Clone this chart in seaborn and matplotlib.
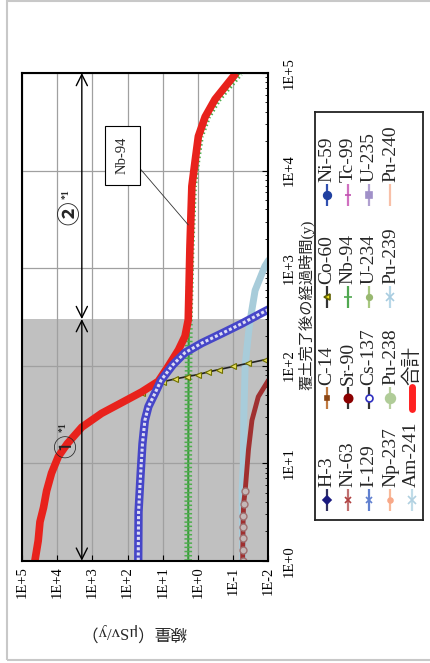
"""Dose after cover completion, drawn rotated 90 deg (time runs upwards, dose to the right)."""
import matplotlib.pyplot as plt
import matplotlib.patches as mpatches
from matplotlib.ticker import NullFormatter
import seaborn as sns

# ======================================================================================================================
# Data: time after cover completion (y) and dose (uSv/y)
# ======================================================================================================================
total_t = [1, 1.6, 2.5, 3.5, 5.2, 7.9, 11.7, 15.8, 23.4, 32.4, 41.7, 53.7, 69, 98, 145, 200, 295,
           1660, 6900, 12900, 22400, 35500, 53700, 72400, 100000]
total_dose = [43000, 34700, 30900, 24500, 20000, 14500, 9300, 5200, 2000, 550, 148, 40, 13.5, 7.1, 3.6, 2.35, 1.9,
              1.7, 1.5, 1.2, 0.98, 0.63, 0.33, 0.17, 0.083]

nb94_t = [1, 3, 10, 30, 100, 300, 1660, 6900, 12900, 22400, 35500, 53700, 72400, 100000]
nb94_dose = [1.9, 1.9, 1.9, 1.88, 1.86, 1.82, 1.62, 1.38, 1.1, 0.88, 0.55, 0.28, 0.14, 0.066]

co60_t = [1, 2.5, 5.2, 11.7, 23.4, 41.7, 52.5, 60, 68.5, 73, 77, 81, 86, 91, 98, 106, 115]
co60_dose = [42000, 30000, 19500, 9000, 1900, 140, 40, 18.6, 9.8, 4.5, 2.1, 1.0, 0.52, 0.26, 0.1, 0.037, 0.0126]

cs137_t = [1, 3.16, 7.9, 15.8, 27.5, 38, 52.5, 71, 102, 135, 170, 214, 269, 347, 380]
cs137_dose = [50, 49, 42.7, 38, 32.4, 25.7, 16.6, 11.2, 5.2, 2.4, 0.79, 0.21, 0.058, 0.0155, 0.0095]

sr90_t = [1, 1.3, 1.7, 2.2, 2.9, 3.8, 5.2, 13.8, 27.5, 48, 71]
sr90_dose = [0.054, 0.054, 0.053, 0.053, 0.052, 0.051, 0.046, 0.037, 0.0295, 0.0195, 0.01]

am241_t = [1, 5.2, 10, 32, 100, 214, 295, 590, 1050, 1200]
am241_dose = [0.054, 0.056, 0.052, 0.05, 0.046, 0.037, 0.033, 0.024, 0.0126, 0.01]

dose_ticks = [1e5, 1e4, 1e3, 1e2, 1e1, 1e0, 1e-1, 1e-2]
dose_tick_labels = ['1E+5', '1E+4', '1E+3', '1E+2', '1E+1', '1E+0', '1E-1', '1E-2']
time_ticks = [1e0, 1e1, 1e2, 1e3, 1e4, 1e5]
time_tick_labels = ['1E+0', '1E+1', '1E+2', '1E+3', '1E+4', '1E+5']

legend_names = ['H-3', 'C-14', 'Co-60', 'Ni-59', 'Ni-63', 'Sr-90', 'Nb-94', 'Tc-99', 'I-129', 'Cs-137',
                'U-234', 'U-235', 'Np-237', 'Pu-238', 'Pu-239', 'Pu-240', 'Am-241', '合計']

management_period = [1, 300, 100000]   # (1) and (2) periods
arrow_dose = 2000

# ======================================================================================================================
# Styles
# ======================================================================================================================
sns.set_style('white')
plt.rcParams['font.family'] = ['Liberation Serif', 'Noto Sans CJK JP', 'DejaVu Sans']
plt.rcParams['axes.edgecolor'] = 'black'

legend_styles = {
    'H-3': dict(color='#303060', marker='D', mfc='#1a1a80', mec='#1a1a80', ms=4),
    'C-14': dict(color='#c07a40', marker='s', mfc='#8b4513', mec='#8b4513', ms=3.5),
    'Co-60': dict(color='#333333', marker='<', mfc='#f0e020', mec='#606000', ms=5),
    'Ni-59': dict(color='#3050b0', marker='o', mfc='#2040a0', mec='#2040a0', ms=5.5),
    'Ni-63': dict(color='#c07070', marker='x', mfc='#b04040', mec='#b04040', ms=5),
    'Sr-90': dict(color='#333333', marker='o', mfc='#8b0000', mec='#8b0000', ms=6),
    'Nb-94': dict(color='#50a850', marker='_', mfc='#50a850', mec='#50a850', ms=6),
    'Tc-99': dict(color='#d070c0', marker='_', mfc='#c050b0', mec='#c050b0', ms=5),
    'I-129': dict(color='#6080d0', marker='x', mfc='#6080d0', mec='#6080d0', ms=5),
    'Cs-137': dict(color='#333333', marker='o', mfc='white', mec='#3030c0', ms=5),
    'U-234': dict(color='#a8c880', marker='o', mfc='#98b870', mec='#98b870', ms=4),
    'U-235': dict(color='#b0a0d0', marker='s', mfc='#a090c8', mec='#a090c8', ms=5),
    'Np-237': dict(color='#f8b898', marker='o', mfc='#f8a888', mec='#f8a888', ms=3.5),
    'Pu-238': dict(color='#b8d0a0', marker='o', mfc='#b0cc98', mec='#b0cc98', ms=7),
    'Pu-239': dict(color='#b8d8e8', marker='x', mfc='#a8cce0', mec='#a8cce0', ms=6),
    'Pu-240': dict(color='#f8c0a8', marker='', ms=0),
    'Am-241': dict(color='#c0dce8', marker='x', mfc='#b0d0e0', mec='#b0d0e0', ms=6),
    '合計': dict(color='#ff2020', marker='', ms=0, lw=5, solid_capstyle='round'),
}

W, H = 430, 663
fig = plt.figure(figsize=(W / 100, H / 100), dpi=100)
fig.add_artist(mpatches.Rectangle((7 / W, 3 / H), 1, 1 - 4 / H, transform=fig.transFigure,
                                  fill=False, ec='#c8c8c8', lw=1.5))
ax = fig.add_axes([22 / W, (H - 560.7) / H, 246.5 / W, 487.7 / H])
ax.set_xscale('log')
ax.set_yscale('log')

# period (1) shaded
ax.axhspan(management_period[0], management_period[1], color='#c0c0c0', zorder=0.1, lw=0)
ax.set_axisbelow(True)
ax.grid(True, which='major', color='#a0a0a0', lw=0.9)

# ======================================================================================================================
# Curves
# ======================================================================================================================
sns.lineplot(x=am241_dose, y=am241_t, sort=False, estimator=None, ax=ax, color='#a8ccda', lw=5, zorder=2)
sns.lineplot(x=sr90_dose, y=sr90_t, sort=False, estimator=None, ax=ax, color='#a03030', lw=3.5, zorder=2.1,
             marker='o', ms=5, mfc='#c4b8b8', mec='#a07070', mew=1, markevery=slice(0, 7))
sns.lineplot(x=nb94_dose, y=nb94_t, sort=False, estimator=None, ax=ax, color='#3a9a3a', lw=1.5, zorder=2.8)
sns.lineplot(x=nb94_dose, y=nb94_t, sort=False, estimator=None, ax=ax, color='#4fae4f', lw=5.5, zorder=2.8,
             dashes=False, linestyle=(0, (0.2, 0.35)))
sns.lineplot(x=co60_dose, y=co60_t, sort=False, estimator=None, ax=ax, color='#222222', lw=1.2, zorder=3.2,
             marker='<', ms=5, mfc='#e8e060', mec='#707000', mew=0.8, markevery=slice(6, None))
sns.lineplot(x=total_dose, y=total_t, sort=False, estimator=None, ax=ax, color='#e8221c', lw=5.5, zorder=3.5,
             solid_capstyle='butt')
sns.lineplot(x=cs137_dose, y=cs137_t, sort=False, estimator=None, ax=ax, color='#4646c8', lw=6, zorder=4)
sns.lineplot(x=cs137_dose, y=cs137_t, sort=False, estimator=None, ax=ax, color='#dcdcf4', lw=2.2, zorder=4,
             dashes=False, linestyle=(0, (1.0, 0.7)))

# ======================================================================================================================
# Annotations
# ======================================================================================================================
arrow_style = dict(arrowstyle='<->,head_length=0.8,head_width=0.4', lw=1, color='black', shrinkA=0, shrinkB=0)
ax.annotate('', xy=(arrow_dose, management_period[0]), xytext=(arrow_dose, management_period[1]),
            arrowprops=arrow_style, zorder=5)
ax.annotate('', xy=(arrow_dose, management_period[1]), xytext=(arrow_dose, management_period[2]),
            arrowprops=arrow_style, zorder=5)
ax.text(4800, 14.8, '①', rotation=90, ha='center', va='center', fontsize=17, zorder=6)
ax.annotate('*1', xy=(4800, 14.8), xytext=(-4, 14), textcoords='offset points', rotation=90,
            ha='center', va='center', fontsize=7, fontweight='bold', zorder=6)
ax.text(3900, 3650, '②', rotation=90, ha='center', va='center', fontsize=17, fontweight='bold', zorder=6)
ax.annotate('*1', xy=(3900, 3650), xytext=(-4, 14), textcoords='offset points', rotation=90,
            ha='center', va='center', fontsize=7, fontweight='bold', zorder=6)
ax.annotate('Nb-94', xy=(1.9, 2770), xytext=(140, 14200), textcoords='data', rotation=90,
            ha='center', va='center', fontsize=10.5, zorder=6,
            bbox=dict(boxstyle='square,pad=0.75', fc='white', ec='black', lw=0.8),
            arrowprops=dict(arrowstyle='-', color='#333333', lw=0.6, relpos=(1, 0.5), shrinkA=0, shrinkB=0))

# ======================================================================================================================
# Axes
# ======================================================================================================================
ax.set_xlim(1e5, 1e-2)
ax.set_ylim(1, 1e5)
ax.set_xticks(dose_ticks)
ax.set_xticklabels(dose_tick_labels, rotation=90, fontsize=10.5)
ax.yaxis.tick_right()
ax.set_yticks(time_ticks)
ax.set_yticklabels(time_tick_labels, rotation=90, va='center', fontsize=10.5)
ax.xaxis.set_minor_formatter(NullFormatter())
ax.yaxis.set_minor_formatter(NullFormatter())
ax.tick_params(axis='both', which='both', direction='in', colors='black')
ax.tick_params(axis='both', which='major', length=4, width=0.8)
ax.tick_params(axis='both', which='minor', length=2.5, width=0.6)
ax.tick_params(axis='x', bottom=True, top=False, pad=4)
ax.tick_params(axis='y', right=True, left=False, pad=10)
ax.set_xlabel('')
ax.set_ylabel('')
for s in ax.spines.values():
    s.set_linewidth(1.5)
    s.set_zorder(7)

fig.text(306 / W, 1 - 305 / H, '覆土完了後の経過時間(y)', rotation=90, ha='center', va='center', fontsize=11)
fig.text(134 / W, 1 - 632 / H, '線量（μSv/y）', rotation=180, ha='center', va='center', fontsize=12)

# ======================================================================================================================
# Legend (drawn rotated like the rest of the chart)
# ======================================================================================================================
lax = fig.add_axes([315 / W, (H - 520) / H, 108 / W, 408 / H])
lax.set_xlim(0, 108)
lax.set_ylim(0, 408)
lax.set_xticks([])
lax.set_yticks([])
for s in lax.spines.values():
    s.set_linewidth(1.3)
    s.set_color('#222222')
for i, name in enumerate(legend_names):
    st = dict(legend_styles[name])
    cx = 11.7 + 21.25 * (i // 4)
    cy = 20 + 101.7 * (i % 4)
    lw = st.pop('lw', 1.6)
    cap = st.pop('solid_capstyle', 'butt')
    lax.plot([cx, cx], [cy - 11, cy + 11], color=st['color'], lw=lw, solid_capstyle=cap)
    if st['marker']:
        lax.plot([cx], [cy], ls='', marker=st['marker'], ms=st['ms'], mfc=st['mfc'], mec=st['mec'], mew=1.2)
    lax.text(cx, cy + 13, name, rotation=90, ha='center', va='bottom', fontsize=14)

fig.savefig('out.png', dpi=100)
